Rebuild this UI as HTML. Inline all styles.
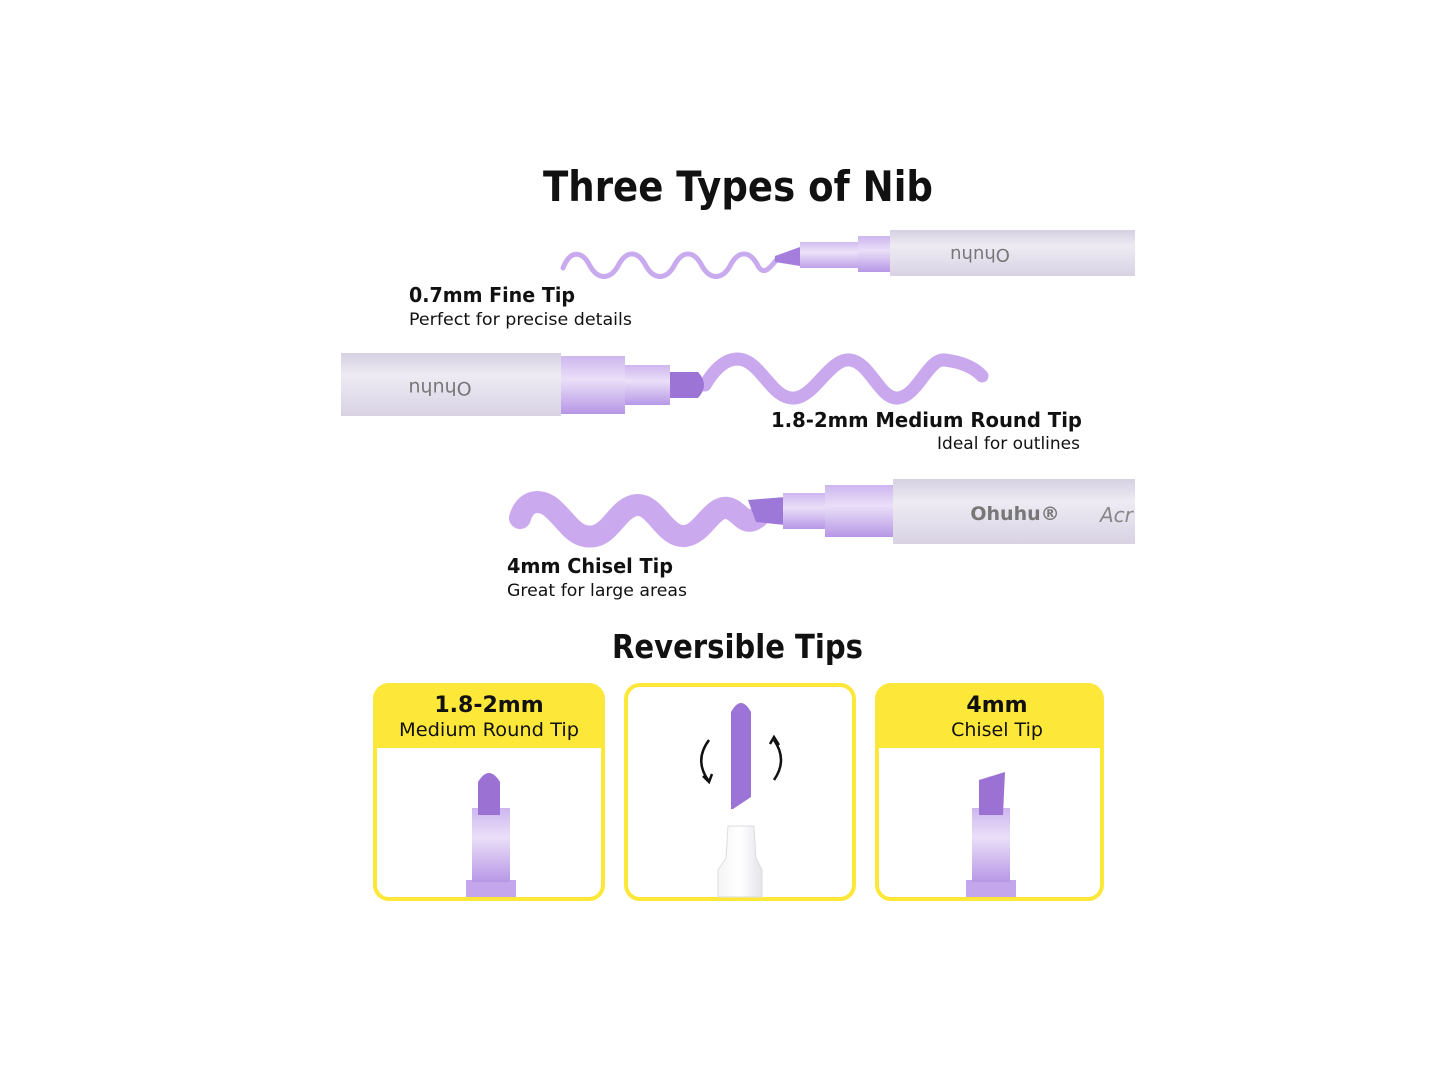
<!DOCTYPE html>
<html><head><meta charset="utf-8"><style>
body{margin:0;background:#fff}
svg{display:block}
text{font-family:"DejaVu Sans","Liberation Sans",sans-serif;fill:#111}
</style></head><body>
<svg width="1445" height="1076" viewBox="0 0 1445 1076" xmlns="http://www.w3.org/2000/svg">
<defs>
<linearGradient id="bar" x1="0" y1="0" x2="0" y2="1">
<stop offset="0" stop-color="#d6d0e2"/><stop offset="0.35" stop-color="#eeebf3"/><stop offset="1" stop-color="#d8d2e4"/></linearGradient>
<linearGradient id="col" x1="0" y1="0" x2="0" y2="1">
<stop offset="0" stop-color="#cdb6ee"/><stop offset="0.4" stop-color="#eadff8"/><stop offset="1" stop-color="#b797e6"/></linearGradient>
<linearGradient id="clr" x1="0" y1="0" x2="1" y2="0">
<stop offset="0" stop-color="#f4f4f6"/><stop offset="0.5" stop-color="#ffffff"/><stop offset="1" stop-color="#e4e4ea"/></linearGradient>
</defs>
<text x="543" y="201" font-size="42" font-weight="bold" textLength="390" lengthAdjust="spacingAndGlyphs">Three Types of Nib</text>

<!-- pen 1 -->
<path d="M563 268 C570 250 582 250 590 266 C598 280 610 280 618 266 C626 250 638 250 646 266 C654 280 666 280 674 266 C682 250 694 250 702 266 C710 280 722 280 730 266 C738 250 750 250 758 266 C764 276 770 268 778 258" fill="none" stroke="#c9aaee" stroke-width="5" stroke-linecap="round"/>
<path d="M775 256 L800 247 L800 266 L775 262 Z" fill="#a57ddc"/>
<rect x="800" y="242" width="58" height="26" fill="url(#col)" opacity="0.9"/>
<rect x="858" y="236" width="34" height="36" fill="url(#col)"/>
<rect x="890" y="230" width="245" height="46" fill="url(#bar)"/>
<text x="980" y="261" font-size="18" style="fill:#777" text-anchor="middle" transform="rotate(180 980 255)">Ohuhu</text>
<text x="409" y="302" font-size="20" font-weight="bold" textLength="166" lengthAdjust="spacingAndGlyphs">0.7mm Fine Tip</text>
<text x="409" y="325" font-size="17" textLength="223" lengthAdjust="spacingAndGlyphs">Perfect for precise details</text>

<!-- pen 2 -->
<path d="M705 385 C720 360 735 355 748 362 C765 372 775 400 795 398 C815 396 830 358 850 360 C870 362 880 400 898 398 C918 396 928 358 945 360 C962 362 975 368 982 376" fill="none" stroke="#c9a8ee" stroke-width="13" stroke-linecap="round" stroke-linejoin="round"/>
<path d="M668 372 L698 372 Q710 385 698 398 L668 398 Z" fill="#9c74d6"/>
<rect x="625" y="365" width="45" height="40" fill="url(#col)"/>
<rect x="560" y="356" width="65" height="58" fill="url(#col)"/>
<rect x="341" y="353" width="220" height="63" fill="url(#bar)"/>
<text x="440" y="394" font-size="19" style="fill:#777" text-anchor="middle" transform="rotate(180 440 388)">Ohuhu</text>
<text x="771" y="427" font-size="20" font-weight="bold" textLength="311" lengthAdjust="spacingAndGlyphs">1.8-2mm Medium Round Tip</text>
<text x="1080" y="449" font-size="17" text-anchor="end">Ideal for outlines</text>

<!-- pen 3 -->
<path d="M520 518 C525 500 540 498 552 508 C568 522 575 540 595 536 C612 532 620 505 638 505 C656 505 665 538 685 536 C703 534 712 505 728 508 C742 512 745 530 760 515" fill="none" stroke="#cba9ef" stroke-width="22" stroke-linecap="round" stroke-linejoin="round"/>
<path d="M748 500 L785 497 L785 525 L756 522 Z" fill="#9e78d8"/>
<rect x="783" y="493" width="44" height="36" fill="url(#col)"/>
<rect x="825" y="485" width="70" height="52" fill="url(#col)"/>
<rect x="893" y="479" width="242" height="65" fill="url(#bar)"/>
<text x="1015" y="520" font-size="19" font-weight="bold" style="fill:#777" text-anchor="middle">Ohuhu®</text>
<text x="1100" y="522" font-size="20" font-style="italic" style="fill:#888">Acr</text>
<text x="507" y="573" font-size="20" font-weight="bold" textLength="166" lengthAdjust="spacingAndGlyphs">4mm Chisel Tip</text>
<text x="507" y="596" font-size="17" textLength="180" lengthAdjust="spacingAndGlyphs">Great for large areas</text>

<text x="612" y="658" font-size="33" font-weight="bold" textLength="251" lengthAdjust="spacingAndGlyphs">Reversible Tips</text>

<!-- boxes -->
<g>
<rect x="375" y="685" width="228" height="214" rx="14" fill="#fff" stroke="#fde83a" stroke-width="4"/>
<path d="M375 748 L375 699 Q375 685 389 685 L589 685 Q603 685 603 699 L603 748 Z" fill="#fde83a"/>
<text x="489" y="712" font-size="22" font-weight="bold" text-anchor="middle">1.8-2mm</text>
<text x="489" y="736" font-size="19" text-anchor="middle" textLength="180" lengthAdjust="spacingAndGlyphs">Medium Round Tip</text>
<rect x="466" y="880" width="50" height="17" fill="#c4a6ec"/>
<rect x="472" y="808" width="38" height="74" fill="url(#col)"/>
<path d="M478 815 L478 782 Q489 764 500 782 L500 815 Z" fill="#9b72d4"/>
</g>
<g>
<rect x="626" y="685" width="228" height="214" rx="14" fill="#fff" stroke="#fde83a" stroke-width="4"/>
<path d="M731 712 Q741 694 751 712 L751 797 L733 809 L731 809 Z" fill="#9c74d8"/>
<path d="M709 740 Q694 760 708 780" fill="none" stroke="#111" stroke-width="2.5"/>
<path d="M703 776 L709 782 L712 774" fill="none" stroke="#111" stroke-width="2.5"/>
<path d="M774 780 Q788 760 774 740" fill="none" stroke="#111" stroke-width="2.5"/>
<path d="M770 744 L774 737 L779 745" fill="none" stroke="#111" stroke-width="2.5"/>
<path d="M728 826 L754 826 L756 858 L762 870 L762 897 L718 897 L718 870 L726 858 Z" fill="url(#clr)" stroke="#ddd"/>
</g>
<g>
<rect x="877" y="685" width="225" height="214" rx="14" fill="#fff" stroke="#fde83a" stroke-width="4"/>
<path d="M877 748 L877 699 Q877 685 891 685 L1088 685 Q1102 685 1102 699 L1102 748 Z" fill="#fde83a"/>
<text x="997" y="712" font-size="22" font-weight="bold" text-anchor="middle">4mm</text>
<text x="997" y="736" font-size="19" text-anchor="middle">Chisel Tip</text>
<rect x="966" y="880" width="50" height="17" fill="#c4a6ec"/>
<rect x="972" y="808" width="38" height="74" fill="url(#col)"/>
<path d="M979 815 L979 780 L1005 772 L1003 815 Z" fill="#9b72d4"/>
</g>
</svg>
</body></html>
